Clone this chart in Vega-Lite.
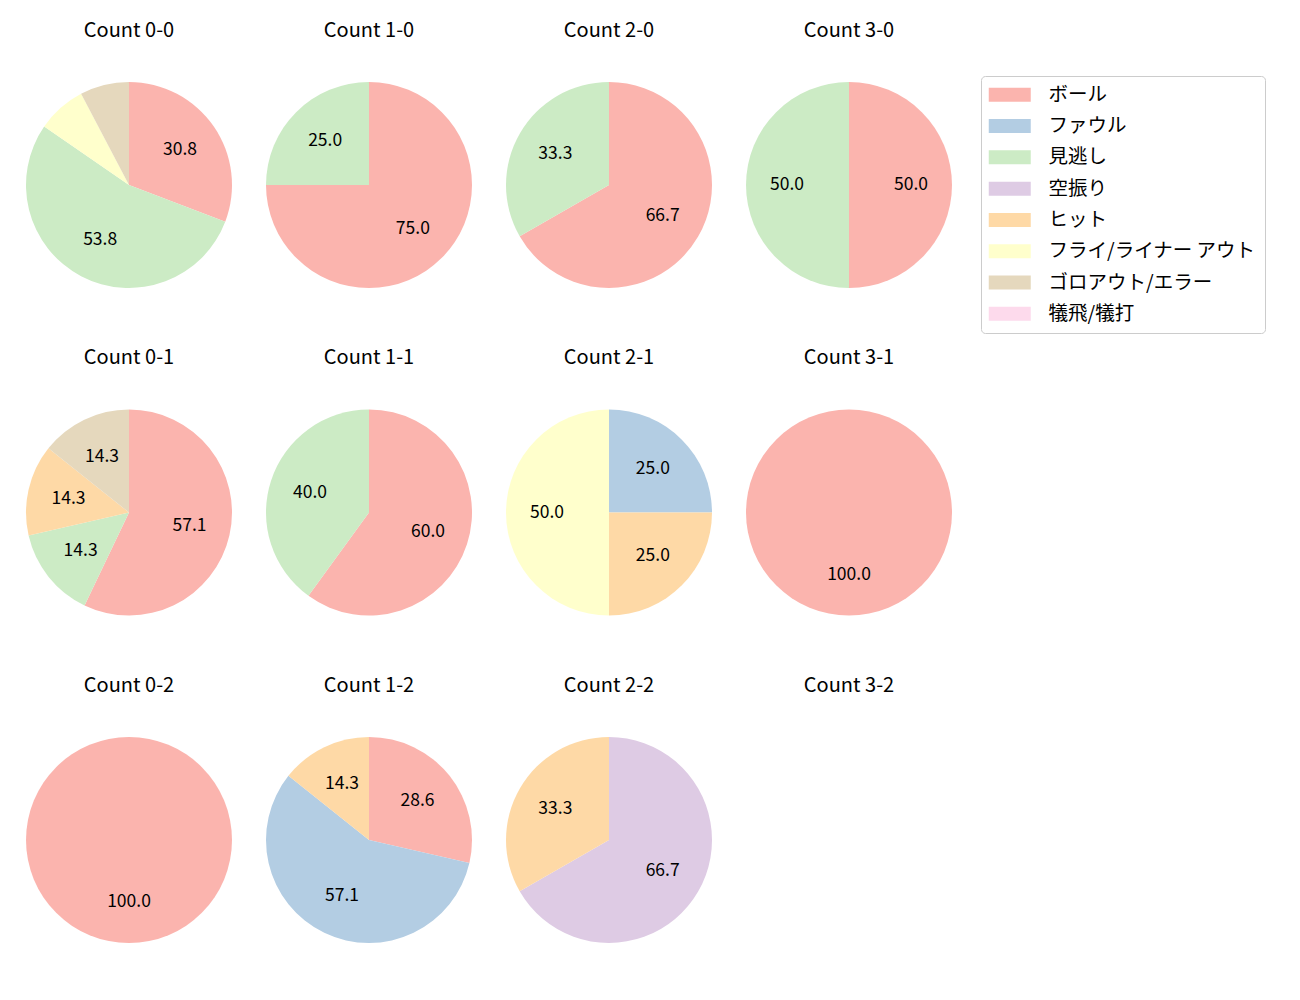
{
  "$schema": "https://vega.github.io/schema/vega-lite/v6.json",
  "padding": {"left": 26, "top": 20, "right": 5, "bottom": 5},
  "background": "white",
  "data": {"values": [
    {"title": "Count 0-0", "ord": 0, "cat": "ボール", "ci": 0, "pct": 30.8},
    {"title": "Count 0-0", "ord": 0, "cat": "見逃し", "ci": 2, "pct": 53.8},
    {"title": "Count 0-0", "ord": 0, "cat": "フライ/ライナー アウト", "ci": 5, "pct": 7.7},
    {"title": "Count 0-0", "ord": 0, "cat": "ゴロアウト/エラー", "ci": 6, "pct": 7.7},
    {"title": "Count 1-0", "ord": 1, "cat": "ボール", "ci": 0, "pct": 75.0},
    {"title": "Count 1-0", "ord": 1, "cat": "見逃し", "ci": 2, "pct": 25.0},
    {"title": "Count 2-0", "ord": 2, "cat": "ボール", "ci": 0, "pct": 66.7},
    {"title": "Count 2-0", "ord": 2, "cat": "見逃し", "ci": 2, "pct": 33.3},
    {"title": "Count 3-0", "ord": 3, "cat": "ボール", "ci": 0, "pct": 50.0},
    {"title": "Count 3-0", "ord": 3, "cat": "見逃し", "ci": 2, "pct": 50.0},
    {"title": "Count 0-1", "ord": 4, "cat": "ボール", "ci": 0, "pct": 57.1},
    {"title": "Count 0-1", "ord": 4, "cat": "見逃し", "ci": 2, "pct": 14.3},
    {"title": "Count 0-1", "ord": 4, "cat": "ヒット", "ci": 4, "pct": 14.3},
    {"title": "Count 0-1", "ord": 4, "cat": "ゴロアウト/エラー", "ci": 6, "pct": 14.3},
    {"title": "Count 1-1", "ord": 5, "cat": "ボール", "ci": 0, "pct": 60.0},
    {"title": "Count 1-1", "ord": 5, "cat": "見逃し", "ci": 2, "pct": 40.0},
    {"title": "Count 2-1", "ord": 6, "cat": "ファウル", "ci": 1, "pct": 25.0},
    {"title": "Count 2-1", "ord": 6, "cat": "ヒット", "ci": 4, "pct": 25.0},
    {"title": "Count 2-1", "ord": 6, "cat": "フライ/ライナー アウト", "ci": 5, "pct": 50.0},
    {"title": "Count 3-1", "ord": 7, "cat": "ボール", "ci": 0, "pct": 100.0},
    {"title": "Count 0-2", "ord": 8, "cat": "ボール", "ci": 0, "pct": 100.0},
    {"title": "Count 1-2", "ord": 9, "cat": "ボール", "ci": 0, "pct": 28.6},
    {"title": "Count 1-2", "ord": 9, "cat": "ファウル", "ci": 1, "pct": 57.1},
    {"title": "Count 1-2", "ord": 9, "cat": "ヒット", "ci": 4, "pct": 14.3},
    {"title": "Count 2-2", "ord": 10, "cat": "空振り", "ci": 3, "pct": 66.7},
    {"title": "Count 2-2", "ord": 10, "cat": "ヒット", "ci": 4, "pct": 33.3},
    {"title": "Count 3-2", "ord": 11, "cat": "ボール", "ci": 0, "pct": 0}
  ]},
  "facet": {
    "field": "title",
    "type": "nominal",
    "sort": {"field": "ord", "op": "min"},
    "title": null,
    "header": {
      "labelFont": "Noto Sans CJK JP",
      "labelFontSize": 20,
      "labelColor": "black",
      "labelPadding": 41.5
    }
  },
  "columns": 4,
  "spacing": {"column": 34, "row": 59.5},
  "spec": {
    "width": 206,
    "height": 206,
    "layer": [
      {
        "mark": {"type": "arc", "radius": 103},
        "encoding": {
          "theta": {"field": "pct", "type": "quantitative", "stack": true, "scale": {"domain": [0, 100]}},
          "order": {"field": "ci", "type": "quantitative"},
          "color": {
            "field": "cat",
            "type": "nominal",
            "scale": {
              "domain": ["ボール", "ファウル", "見逃し", "空振り", "ヒット", "フライ/ライナー アウト", "ゴロアウト/エラー", "犠飛/犠打"],
              "range": ["#fbb4ae", "#b3cde3", "#ccebc5", "#decbe4", "#fed9a6", "#ffffcc", "#e5d8bd", "#fddaec"]
            },
            "legend": {
              "title": null,
              "orient": "none",
              "legendX": 955,
              "legendY": -6,
              "values": ["ボール", "ファウル", "見逃し", "空振り", "ヒット", "フライ/ライナー アウト", "ゴロアウト/エラー", "犠飛/犠打"],
              "symbolType": "M-1.571,-1H4.429V1H-1.571Z",
              "symbolSize": 196,
              "symbolStrokeWidth": 0,
              "symbolOpacity": 1,
              "labelFont": "Noto Sans CJK JP",
              "labelFontSize": 19.5,
              "labelColor": "black",
              "labelOffset": 39,
              "rowPadding": 10.3,
              "padding": 9,
              "strokeColor": "#cccccc",
              "fillColor": "white",
              "cornerRadius": 4,
              "labelLimit": 400
            }
          }
        }
      },
      {
        "transform": [{"filter": "datum.pct > 0"}],
        "mark": {"type": "text", "radius": 62, "font": "Noto Sans CJK JP", "fontSize": 17.5, "color": "black"},
        "encoding": {
          "theta": {"field": "pct", "type": "quantitative", "stack": true, "scale": {"domain": [0, 100]}},
          "order": {"field": "ci", "type": "quantitative"},
          "text": {"condition": {"test": "datum.pct >= 10", "field": "pct", "format": ".1f"}, "value": ""}
        }
      }
    ]
  },
  "config": {"view": {"stroke": null}}
}
